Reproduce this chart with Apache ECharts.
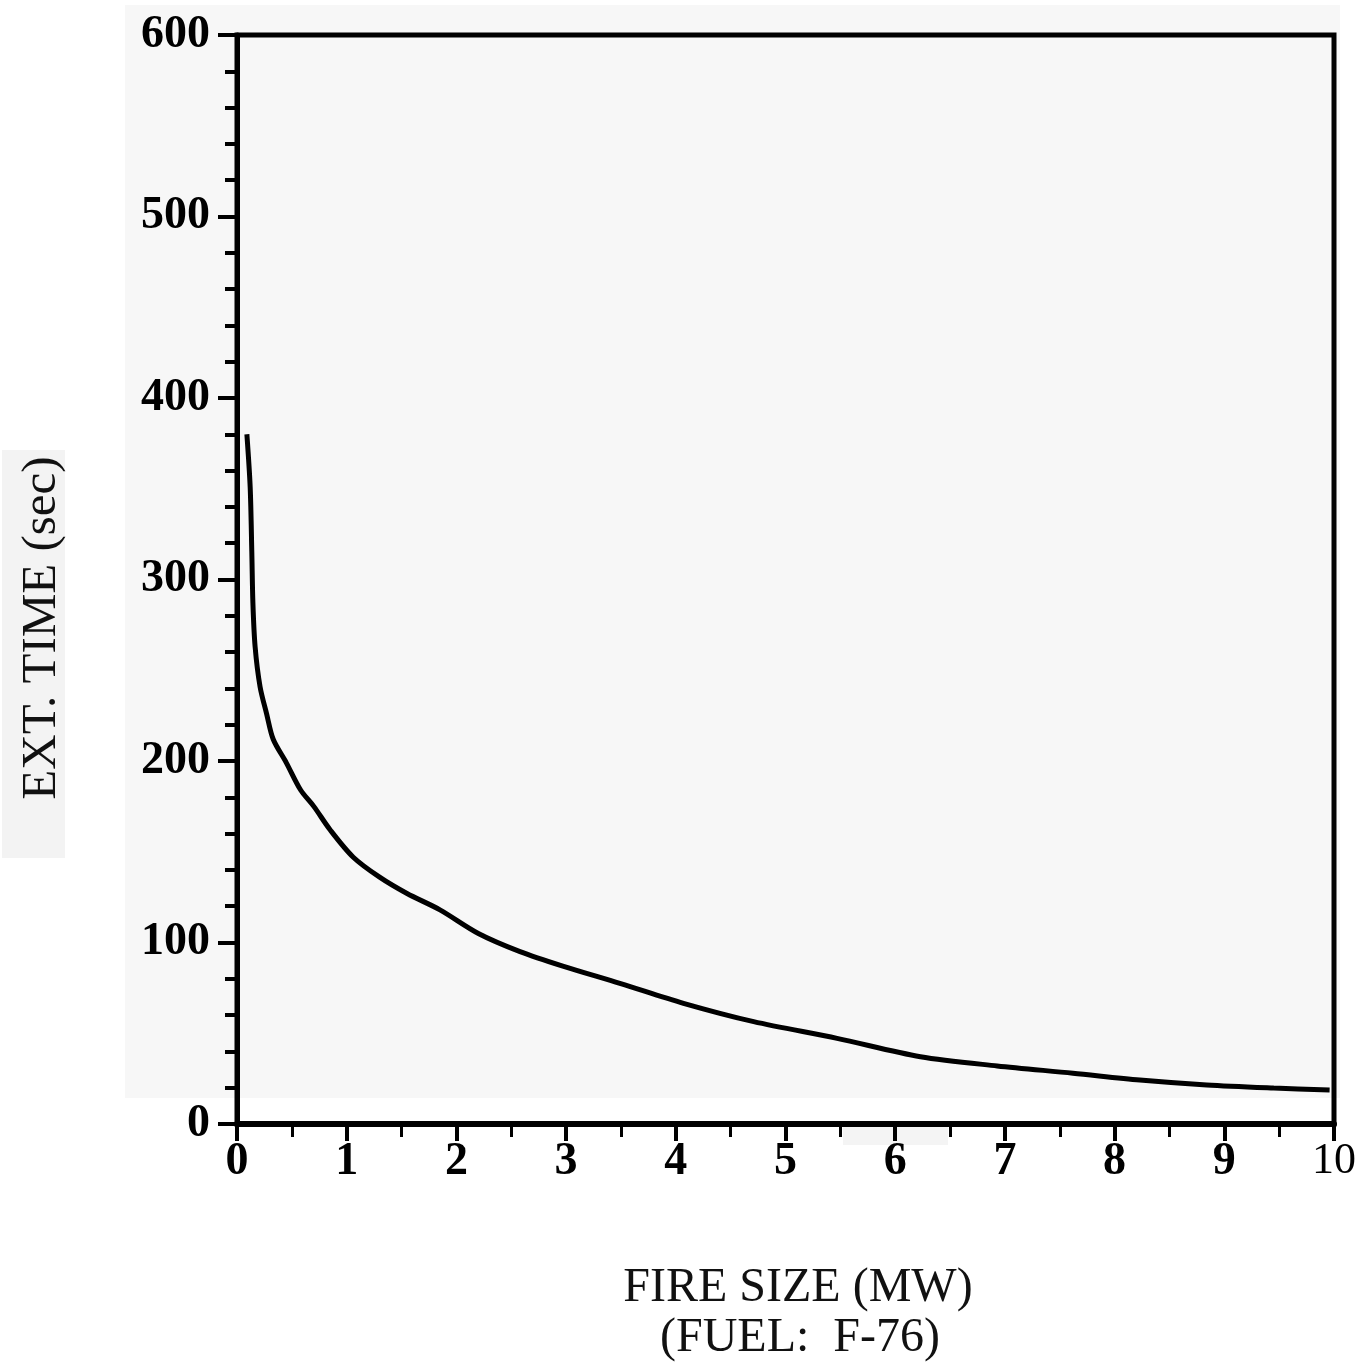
<!DOCTYPE html>
<html>
<head>
<meta charset="utf-8">
<script src="https://cdn.jsdelivr.net/npm/echarts@6/dist/echarts.min.js"></script>
<style>
html,body{margin:0;padding:0;background:#ffffff;}
#chart{width:1362px;height:1365px;}
</style>
</head>
<body>
<div id="chart"></div>
<script>
// Data
var fireSize = [0.09, 0.12, 0.135, 0.145, 0.165, 0.21, 0.27, 0.33, 0.45, 0.58, 0.70, 0.85, 1.06, 1.30, 1.55, 1.85, 2.2, 2.58, 2.97, 3.49, 4.07, 4.71, 5.47, 6.23, 6.93, 7.62, 8.23, 8.84, 9.45, 9.96];
var extTime = [380, 351, 315, 287, 263, 241, 226, 212, 199, 184, 175, 162, 147, 136, 127, 118, 105, 95, 87, 77.5, 66.5, 56.4, 47.2, 37.1, 32, 28, 24.2, 21.5, 19.8, 18.7];
var xTicks = {min: 0, max: 10, interval: 1};
var yTicks = {min: 0, max: 600, interval: 100};
var xTitle = 'FIRE SIZE (MW)';
var xSubtitle = '(FUEL:  F-76)';
var yTitle = 'EXT. TIME (sec)';

var points = fireSize.map(function (x, i) { return [x, extTime[i]]; });
var serif = '"Liberation Serif", "Times New Roman", serif';

var chart = echarts.init(document.getElementById('chart'));
chart.setOption({
  backgroundColor: '#ffffff',
  animation: false,
  grid: {
    left: 237, top: 35, right: 28, bottom: 241,
    show: true, borderColor: '#000', borderWidth: 5,
    backgroundColor: 'transparent', z: 1
  },
  graphic: [
    {type: 'rect', z: -10, silent: true, shape: {x: 125, y: 5, width: 1215, height: 1093}, style: {fill: '#f7f7f7'}},
    {type: 'rect', z: -10, silent: true, shape: {x: 843, y: 1124, width: 105, height: 21}, style: {fill: '#f4f4f4'}},
    {type: 'rect', z: -10, silent: true, shape: {x: 2, y: 450, width: 63, height: 408}, style: {fill: '#f3f3f3'}},
    {type: 'text', z: 10, x: 42, y: 628, rotation: Math.PI / 2,
      style: {text: yTitle, font: '49px ' + serif, fill: '#111', align: 'center', verticalAlign: 'middle'}},
    {type: 'text', z: 10, x: 798, y: 1288,
      style: {text: xTitle, font: '48px ' + serif, fill: '#111', align: 'center', verticalAlign: 'middle'}},
    {type: 'text', z: 10, x: 800, y: 1338,
      style: {text: xSubtitle, font: '48px ' + serif, fill: '#111', align: 'center', verticalAlign: 'middle'}}
  ],
  xAxis: {
    type: 'value', min: xTicks.min, max: xTicks.max, interval: xTicks.interval,
    axisLine: {show: true, onZero: false, lineStyle: {color: '#000', width: 6}},
    axisTick: {show: true, length: 17, lineStyle: {color: '#000', width: 4}},
    minorTick: {show: true, splitNumber: 2, length: 13, lineStyle: {color: '#000', width: 3}},
    splitLine: {show: false},
    axisLabel: {
      margin: 15, color: '#000',
      fontFamily: serif, fontSize: 46, fontWeight: 'bold',
      formatter: function (v) { return v === 10 ? '{n|10}' : '{b|' + v + '}'; },
      rich: {
        b: {fontFamily: serif, fontSize: 46, fontWeight: 'bold', color: '#000'},
        n: {fontFamily: serif, fontSize: 44, fontWeight: 'normal', color: '#000', padding: [0, 0, 14, 0]}
      }
    }
  },
  yAxis: {
    type: 'value', min: yTicks.min, max: yTicks.max, interval: yTicks.interval,
    axisLine: {show: true, onZero: false, lineStyle: {color: '#000', width: 5}},
    axisTick: {show: true, length: 19, lineStyle: {color: '#000', width: 4}},
    minorTick: {show: true, splitNumber: 5, length: 12, lineStyle: {color: '#000', width: 4}},
    splitLine: {show: false},
    axisLabel: {margin: 27, color: '#000', fontFamily: serif, fontSize: 46, fontWeight: 'bold'}
  },
  series: [{
    type: 'line',
    data: points,
    smooth: 0.3,
    showSymbol: false,
    symbol: 'none',
    lineStyle: {color: '#000', width: 5},
    z: 5
  }]
});
</script>
</body>
</html>
